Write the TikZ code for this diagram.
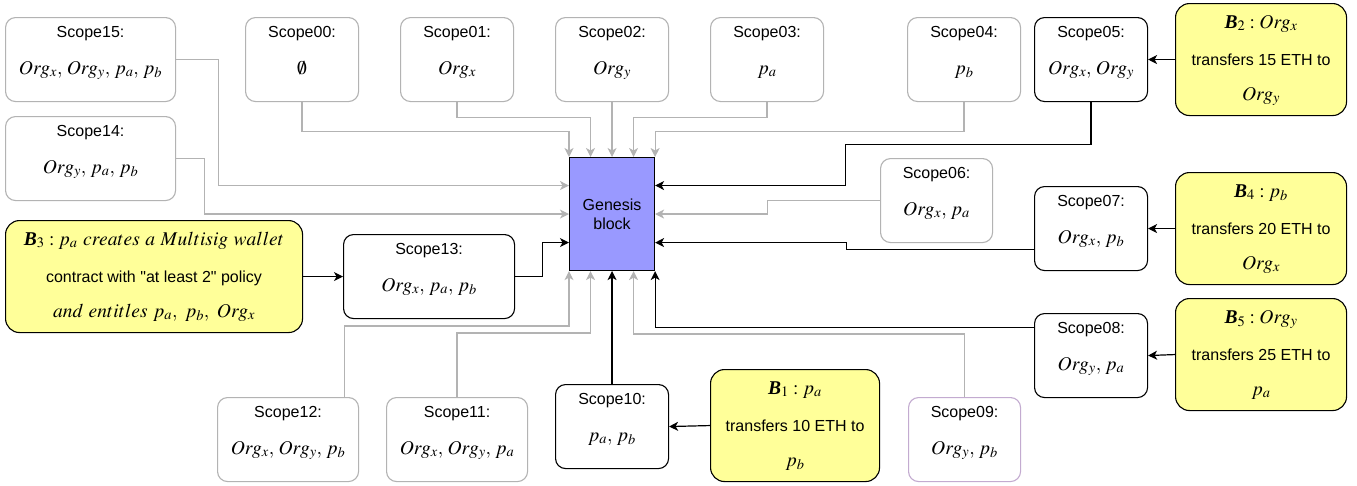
\documentclass[tikz,border=0pt]{standalone}
\usepackage{mathptmx}
\usepackage[no-math]{fontspec}
\setmainfont{Liberation Sans}[Ligatures=TeXOff]
\newfontfamily\timesfont{Liberation Serif}
\usetikzlibrary{arrows.meta,calc}
\definecolor{bordergray}{RGB}{179,179,179}
\definecolor{lineg}{RGB}{179,179,179}
\definecolor{lavender}{RGB}{195,171,208}
\definecolor{yel}{RGB}{255,255,153}
\definecolor{genblue}{RGB}{153,153,255}
\newcommand\BB[1]{\mbox{\timesfont\bfseries\itshape B}_{#1}}
\newcommand\cs{,\,}
\tikzset{
  box/.style={rounded corners=10pt, line width=1.1pt, inner sep=0pt},
  graybox/.style={box, draw=bordergray, fill=white},
  blackbox/.style={box, draw=black, fill=white},
  purplebox/.style={box, draw=lavender, fill=white},
  yelbox/.style={box, draw=black, fill=yel, rounded corners=14pt},
  titletext/.style={font=\fontsize{16}{19}\selectfont, inner sep=0pt},
  mathtext/.style={font=\fontsize{19.5}{22}\selectfont, inner sep=0pt},
  tipstyle/.style={-{Stealth[length=9pt,width=9pt,inset=2.5pt]}},
  gconn/.style={draw=lineg, line width=1.2pt, tipstyle},
  bconn/.style={draw=black, line width=1.2pt, tipstyle},
}
\newcommand\ScopeBox[7]{%
  \node[#2, minimum width=#5pt, minimum height=84pt, anchor=north west] (#1) at (#3,#4) {};
  \node[titletext, anchor=base] (#1t) at ($(#1.north)+(0,20)$) {#6};
  \node[mathtext, anchor=base] (#1m) at ($(#1.north)+(0,57)$) {#7};}
\newcommand\BlockBox[7]{%
  \node[yelbox, minimum width=#4pt, minimum height=112pt, anchor=north west] (#1) at (#2,#3) {};
  \node[mathtext, anchor=base] (#1a) at ($(#1.north)+(0,25)$) {#5};
  \node[titletext, anchor=base] (#1b) at ($(#1.north)+(0,62)$) {#6};
  \node[mathtext, anchor=base] (#1c) at ($(#1.north)+(0,97)$) {#7};}
\begin{document}
\begin{tikzpicture}[x=1pt,y=-1pt]
\useasboundingbox (0,0) rectangle (1357,485);
% scope boxes
\ScopeBox{s15}{graybox}{5}{17}{170}{Scope15:}{$Org_x\cs Org_y\cs p_a\cs p_b$}
\ScopeBox{s14}{graybox}{5}{116}{170}{Scope14:}{$Org_y\cs p_a\cs p_b$}
\ScopeBox{s00}{graybox}{245}{17}{113}{Scope00:}{$\emptyset$}
\ScopeBox{s01}{graybox}{400}{17}{113}{Scope01:}{$Org_x$}
\ScopeBox{s02}{graybox}{555}{17}{113}{Scope02:}{$Org_y$}
\ScopeBox{s03}{graybox}{710}{17}{113}{Scope03:}{$p_a$}
\ScopeBox{s04}{graybox}{907}{17}{113}{Scope04:}{$p_b$}
\ScopeBox{s05}{blackbox}{1034}{17}{113}{Scope05:}{$Org_x\cs Org_y$}
\ScopeBox{s06}{graybox}{880}{158}{112}{Scope06:}{$Org_x\cs p_a$}
\ScopeBox{s07}{blackbox}{1034}{186}{113}{Scope07:}{$Org_x\cs p_b$}
\ScopeBox{s08}{blackbox}{1034}{313}{113}{Scope08:}{$Org_y\cs p_a$}
\ScopeBox{s09}{purplebox}{908}{397}{112}{Scope09:}{$Org_y\cs p_b$}
\ScopeBox{s10}{blackbox}{555}{384}{113}{Scope10:}{$p_a\cs p_b$}
\ScopeBox{s11}{graybox}{386}{397}{141}{Scope11:}{$Org_x\cs Org_y\cs p_a$}
\ScopeBox{s12}{graybox}{217}{397}{141}{Scope12:}{$Org_x\cs Org_y\cs p_b$}
\ScopeBox{s13}{blackbox}{343}{234}{171}{Scope13:}{$Org_x\cs p_a\cs p_b$}
% transaction blocks
\BlockBox{b2}{1175}{3}{171}{$\BB{2} : Org_x$}{transfers 15 ETH to}{$Org_y$}
\BlockBox{b4}{1175}{172}{171}{$\BB{4} : p_b$}{transfers 20 ETH to}{$Org_x$}
\BlockBox{b5}{1175}{298}{171}{$\BB{5} : Org_y$}{transfers 25 ETH to}{$p_a$}
\BlockBox{b1}{710}{369}{169}{$\BB{1} : p_a$}{transfers 10 ETH to}{$p_b$}
\BlockBox{b3}{5}{220}{297}{$\BB{3} : p_a\ creates\ a\ Multisig\ wallet$}{contract with "at least 2" policy}{$and\ entitles\ p_a,\ p_b,\ Org_x$}
% genesis
\node[draw=black, fill=genblue, line width=1.1pt, minimum width=85pt, minimum height=113pt,
      anchor=north west, align=center, inner sep=0pt, font=\fontsize{16}{19}\selectfont] (gen) at (569,157) {Genesis\\block};
\coordinate (gT0) at (gen.north west);
\coordinate (gT1) at ($(gen.north west)!0.25!(gen.north east)$);
\coordinate (gT2) at ($(gen.north west)!0.5!(gen.north east)$);
\coordinate (gT3) at ($(gen.north west)!0.75!(gen.north east)$);
\coordinate (gT4) at (gen.north east);
\coordinate (gB0) at (gen.south west);
\coordinate (gB1) at ($(gen.south west)!0.25!(gen.south east)$);
\coordinate (gB2) at ($(gen.south west)!0.5!(gen.south east)$);
\coordinate (gB3) at ($(gen.south west)!0.75!(gen.south east)$);
\coordinate (gB4) at (gen.south east);
\coordinate (gL1) at ($(gen.north west)!0.25!(gen.south west)$);
\coordinate (gL2) at ($(gen.north west)!0.5!(gen.south west)$);
\coordinate (gL3) at ($(gen.north west)!0.75!(gen.south west)$);
\coordinate (gR1) at ($(gen.north east)!0.25!(gen.south east)$);
\coordinate (gR2) at ($(gen.north east)!0.5!(gen.south east)$);
\coordinate (gR3) at ($(gen.north east)!0.75!(gen.south east)$);
\coordinate (s07x) at ($(s07.north west)!0.75!(s07.south west)$);
\coordinate (s08x) at ($(s08.north west)!0.17!(s08.south west)$);
\coordinate (s12x) at ($(s12.north west)!0.9!(s12.north east)$);
% gray connectors
\draw[gconn] (s15.east) -- ++(42,0) |- (gL1);
\draw[gconn] (s14.east) -- ++(28,0) |- (gL2);
\draw[gconn] (s00.south) -- ++(0,29) -| (gT0);
\draw[gconn] (s01.south) -- ++(0,15) -| (gT1);
\draw[gconn] (s02.south) -- (gT2);
\draw[gconn] (s03.south) -- ++(0,15) -| (gT3);
\draw[gconn] (s04.south) -- ++(0,29) -| (gT4);
\draw[gconn] (s06.west) -| ($(gR2)+(112,0)$) -- (gR2);
\draw[gconn] (s12x) -- ++(0,-71) -| (gB0);
\draw[gconn] (s11.north) -- ++(0,-64) -| (gB1);
\draw[gconn] (s09.north) -- ++(0,-63) -| (gB3);
% black connectors
\draw[bconn] (s05.south) -- ++(0,42) -| ($(gR1)+(190,0)$) -- (gR1);
\draw[bconn] (s07x) -| ($(gR3)+(191,0)$) -- (gR3);
\draw[bconn] (s08x) -| (gB4);
\draw[bconn] (s10.north) -- (gB2);
\draw[bconn] (s13.east) -- ++(27,0) |- (gL3);
\draw[bconn] (b3.east) -- (s13.west);
\draw[bconn] (b2.west) -- (s05.east);
\draw[bconn] (b4.west) -- (s07.east);
\draw[bconn] (b5.west) -- (s08.east);
\draw[bconn] (b1.west) -- (s10.east);
\end{tikzpicture}
\end{document}
